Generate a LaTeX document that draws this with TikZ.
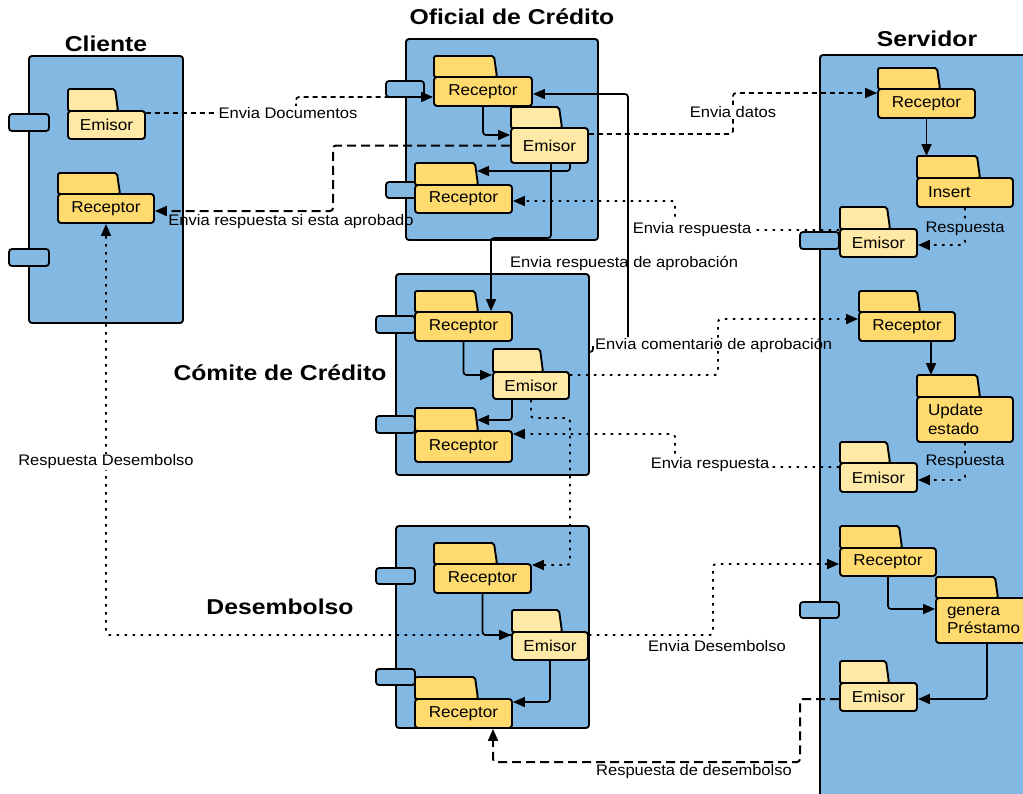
\documentclass[tikz,border=0pt]{standalone}
\usepackage{fontspec}
\setmainfont{Liberation Sans}[FakeStretch=1.08]
\newfontfamily\ttlfont{Liberation Sans}[FakeStretch=1.15]
\usetikzlibrary{arrows.meta}
\definecolor{cont}{HTML}{83B8E3}
\definecolor{recy}{HTML}{FFDA6E}
\definecolor{emiy}{HTML}{FFE9A6}
\tikzset{
 container/.style={draw, line width=1.9pt, fill=cont, rounded corners=3pt, inner sep=0pt},
 port/.style={draw, line width=1.8pt, fill=cont, rounded corners=3pt, inner sep=0pt},
 body/.style={draw, line width=1.9pt, rounded corners=3pt, inner sep=0pt, font=\fontsize{15.8}{18.5}\selectfont},
 tab/.style={draw, line width=1.9pt, rounded corners=2pt},
 rec/.style={fill=recy},
 emi/.style={fill=emiy},
 lbl/.style={font=\fontsize{15.3}{17}\selectfont, inner sep=1pt},
 ttl/.style={font=\ttlfont\bfseries\fontsize{21.5}{23}\selectfont},
 flow/.style={line width=1.7pt, -{Triangle[length=12pt,width=10pt]}, rounded corners=3pt},
 dsh/.style={flow, dash pattern=on 5pt off 4pt},
 dtt/.style={flow, line width=1.9pt, dash pattern=on 2.5pt off 5.5pt},
 lng/.style={flow, line width=2pt, dash pattern=on 9pt off 5pt},
}
% #1 name, #2 style, #3 x0, #4 tab top, #5 tab right, #6 body top, #7 body right, #8 body bottom, #9 text
\newcommand\folder[9]{%
 \path[tab,#2] (#3,#6) -- (#3,#4) -- (#5,#4) -- ({#5+3},#6) -- cycle;
 \coordinate (#1-tab) at ({(#3+#5)/2},#4);
 \node[body,#2,minimum width={(#7-#3)*1pt},minimum height={(#8-#6)*1pt}] (#1) at ({(#3+#7)/2},{(#6+#8)/2}) {#9};}
\newcommand\portbox[5]{%
 \node[port,minimum width={(#4-#2)*1pt},minimum height={(#5-#3)*1pt}] (#1) at ({(#2+#4)/2},{(#3+#5)/2}) {};}
\newcommand\contbox[5]{%
 \node[container,minimum width={(#4-#2)*1pt},minimum height={(#5-#3)*1pt}] (#1) at ({(#2+#4)/2},{(#3+#5)/2}) {};}
\begin{document}
\begin{tikzpicture}[x=1pt,y=-1pt]
\useasboundingbox (0,0) rectangle (1023,793);
% containers
\contbox{cli}{29}{56}{183}{323}
\contbox{oc}{406}{39}{598}{240}
\contbox{cc}{396}{274}{589}{475}
\contbox{de}{396}{526}{589}{728}
\contbox{sv}{820}{55}{1040}{810}
% titles
\node[ttl] (tcli) at (106,44) {Cliente};
\node[ttl] (toc) at (512,17) {Oficial de Crédito};
\node[ttl] (tsv) at (927,39) {Servidor};
\node[ttl] (tcc) at (280,373) {Cómite de Crédito};
\node[ttl] (tde) at (280,607) {Desembolso};
% ports
\portbox{p1}{9}{114}{49}{131}
\portbox{p2}{9}{249}{49}{266}
\portbox{p3}{386}{81}{424}{97}
\portbox{p4}{386}{182}{424}{198}
\portbox{p5}{376}{316}{415}{333}
\portbox{p6}{376}{416}{415}{433}
\portbox{p7}{376}{568}{415}{584}
\portbox{p8}{376}{669}{415}{685}
\portbox{p9}{800}{232}{839}{249}
\portbox{p10}{800}{602}{839}{618}
% folders
\folder{cE}{emi}{68}{89}{115}{111}{145}{139}{Emisor}
\folder{cR}{rec}{58}{173}{117}{194}{154}{223}{Receptor}
\folder{ocR1}{rec}{434}{56}{494}{77}{532}{106}{Receptor}
\folder{ocE}{emi}{511}{107}{559}{128}{588}{163}{Emisor}
\folder{ocR2}{rec}{415}{163}{475}{185}{512}{213}{Receptor}
\folder{ccR1}{rec}{415}{291}{475}{312}{512}{341}{Receptor}
\folder{ccE}{emi}{493}{349}{540}{372}{569}{399}{Emisor}
\folder{ccR2}{rec}{415}{408}{475}{431}{512}{462}{Receptor}
\folder{dR1}{rec}{434}{543}{494}{564}{531}{593}{Receptor}
\folder{dE}{emi}{512}{610}{559}{632}{588}{660}{Emisor}
\folder{dR2}{rec}{415}{677}{475}{699}{512}{728}{Receptor}
\folder{sR1}{rec}{878}{68}{937}{89}{975}{118}{Receptor}
\folder{sIns}{rec,text width=74pt,align=left}{917}{156}{977}{178}{1013}{207}{Insert}
\folder{sE1}{emi}{840}{207}{887}{229}{917}{257}{Emisor}
\folder{sR2}{rec}{859}{291}{917}{312}{955}{341}{Receptor}
\folder{sUpd}{rec,text width=74pt,align=left}{917}{375}{977}{397}{1013}{442}{Update\\estado}
\folder{sE2}{emi}{840}{442}{887}{463}{917}{492}{Emisor}
\folder{sR3}{rec}{840}{526}{899}{548}{936}{576}{Receptor}
\folder{sGen}{rec,text width=76pt,align=left}{936}{577}{995}{598}{1034}{643}{genera\\Préstamo}
\folder{sE3}{emi}{840}{661}{886}{683}{917}{711}{Emisor}
% helper coordinates
\coordinate (t1) at (477,171);
\coordinate (t2) at (477,420);
\coordinate (k1) at (296,97);
\coordinate (k2) at (333,211);
\coordinate (k3) at (733,93);
\coordinate (k4) at (551,238);
\coordinate (k5) at (628,337);
\coordinate (k6) at (570,418);
\coordinate (k7) at (718,319);
\coordinate (k8) at (675,201);
\coordinate (k9) at (675,434);
\coordinate (k10) at (713,564);
\coordinate (k11) at (800,762);
\coordinate (m1) at (589,352);
\coordinate (m2) at (593,352);
\coordinate (m3) at (593,346);
% connectors: Cliente <-> Oficial
\draw[dsh] ([yshift=-3pt]cE.north east) -| (k1) -- ([yshift=-5.5pt]ocR1.west);
\node[lbl,fill=white] (l1) at (288,113) {Envia Documentos};
\draw[lng] (ocE.west) -| (k2) -- ([yshift=-2.5pt]cR.east);
\node[lbl] (l2) at (291,222) {Envia respuesta si esta aprobado};
% Oficial internal
\draw[flow] (ocR1.south) |- ([yshift=10.5pt]ocE.west);
\draw[flow] ([xshift=20.5pt]ocE.south) |- (t1);
% Oficial -> Servidor
\draw[dsh] ([yshift=11.5pt]ocE.east) -| (k3) -- ([yshift=10.5pt]sR1.west);
\node[lbl,fill=white] (l3) at (733,112) {Envia datos};
% Oficial -> Comite
\draw[flow] ([xshift=1.5pt]ocE.south) -- (k4) -| ([xshift=27.5pt]ccR1.north);
\node[lbl,fill=white,anchor=west] (l4) at (509,263) {Envia respuesta de aprobación};
% Comite -> Oficial (solid)
\draw[flow] (m1) -- (m2) -- (m3) (k5) |- ([yshift=-2.5pt]ocR1.east);
\node[lbl,anchor=west] (l5) at (594,345) {Envia comentario de aprobación};
% Comite internal
\draw[flow] (ccR1.south) |- ([yshift=10.5pt]ccE.west);
\draw[flow] ([xshift=-19pt]ccE.south) |- (t2);
% Comite -> Desembolso
\draw[dtt] (ccE.south) |- (k6) |- ([yshift=13.5pt]dR1.east);
% Comite -> Servidor
\draw[dtt] ([yshift=10.5pt]ccE.east) -| (k7) -- ([yshift=7.5pt]sR2.west);
% Servidor -> Oficial / Comite
\draw[dtt] ([yshift=13pt]sE1.west) -| (k8) -- ([yshift=-2pt]ocR2.east);
\node[lbl,fill=white] (l6) at (692,230) {Envia respuesta};
\draw[dtt] ([yshift=10.5pt]sE2.west) -| (k9) -- ([yshift=12.5pt]ccR2.east);
\node[lbl,fill=white] (l7) at (710,465) {Envia respuesta};
% Servidor internal
\draw[flow] (sR1.south) -- (sR1.south |- sIns-tab);
\draw[dtt] (sIns.south) |- ([yshift=-2pt]sE1.east);
\node[lbl,fill=cont] (l8) at (965,229) {Respuesta};
\draw[flow] ([xshift=24pt]sR2.south) -- ([xshift=24pt]sR2.south |- sUpd-tab);
\draw[dtt] (sUpd.south) |- ([yshift=-2.5pt]sE2.east);
\node[lbl,fill=cont] (l9) at (965,462) {Respuesta};
\draw[flow] (sR3.south) |- ([yshift=11.5pt]sGen.west);
\draw[flow] ([xshift=2pt]sGen.south) |- ([yshift=-2pt]sE3.east);
% Desembolso
\draw[flow] (dR1.south) |- ([yshift=11pt]dE.west);
\draw[flow] (dE.south) |- ([yshift=11.5pt]dR2.east);
\draw[dtt] ([yshift=11pt]dE.east) -| (k10) -- ([yshift=-2pt]sR3.west);
\node[lbl] (l10) at (717,646) {Envia Desembolso};
\draw[dtt] ([yshift=11pt]dE.west) -| (cR.south);
\node[lbl,fill=white] (l11) at (106,462) {Respuesta Desembolso};
\draw[lng] ([yshift=-2pt]sE3.west) -| (k11) -| ([xshift=29.5pt]dR2.south);
\node[lbl] (l12) at (694,772) {Respuesta de desembolso};
\end{tikzpicture}
\end{document}
